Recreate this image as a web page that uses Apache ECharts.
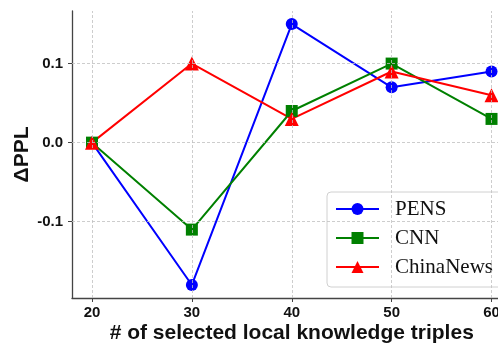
<!DOCTYPE html>
<html>
<head>
<meta charset="utf-8">
<script src="https://cdn.jsdelivr.net/npm/echarts@6/dist/echarts.min.js"></script>
<style>html,body{margin:0;padding:0;background:#fff;}#c{width:498px;height:345px;}</style>
</head>
<body>
<div id="c"></div>
<script>
const xValues = [20, 30, 40, 50, 60];
const pens = [0, -0.18, 0.15, 0.07, 0.09];
const cnn = [0, -0.11, 0.04, 0.10, 0.03];
const chinaNews = [0, 0.10, 0.03, 0.09, 0.06];
const xTicks = [20, 30, 40, 50, 60];
const yTicks = [-0.1, 0.0, 0.1];
const seriesNames = ['PENS', 'CNN', 'ChinaNews'];

const pair = arr => xValues.map((x, i) => [x, arr[i]]);
const chart = echarts.init(document.getElementById('c'), null, {renderer: 'canvas'});
const axisColor = '#444';
const tickFont = {fontFamily: 'Liberation Sans', fontWeight: 'bold', fontSize: 15, color: '#111'};
const gridStyle = {color: '#c0c0c0', width: 0.8, type: [3, 2]};

function mkSeries(name, data, color, symbol, size) {
  return {
    name, type: 'line', data: pair(data), symbol, symbolSize: size,
    lineStyle: {color, width: 2}, itemStyle: {color},
    z: 3, animation: false
  };
}

chart.setOption({
  animation: false,
  grid: {left: 72, top: 11, height: 287, width: 439.5, outerBoundsMode: 'none', containLabel: false},
  xAxis: {
    type: 'value', min: 18, max: 62,
    name: '# of selected local knowledge triples', nameLocation: 'middle', nameGap: 25,
    nameMoveOverlap: false,
    nameTextStyle: {fontFamily: 'Liberation Sans', fontWeight: 'bold', fontSize: 21, color: '#111'},
    axisLine: {show: true, onZero: false, lineStyle: {color: axisColor, width: 1.3}},
    axisTick: {show: true, customValues: xTicks, length: 4, inside: false, lineStyle: {color: axisColor}},
    axisLabel: Object.assign({customValues: xTicks, margin: 7, formatter: v => String(v)}, tickFont),
    splitLine: {show: false}
  },
  yAxis: {
    type: 'value', min: -0.1965, max: 0.1665,
    name: 'ΔPPL', nameLocation: 'middle', nameGap: 39,
    nameMoveOverlap: false,
    nameTextStyle: {fontFamily: 'Liberation Sans', fontWeight: 'bold', fontSize: 21, color: '#111'},
    axisLine: {show: true, onZero: false, lineStyle: {color: axisColor, width: 1.3}},
    axisTick: {show: true, customValues: yTicks, length: 4, inside: false, lineStyle: {color: axisColor}},
    axisLabel: Object.assign({customValues: yTicks, margin: 9, formatter: v => v.toFixed(1)}, tickFont),
    splitLine: {show: false}
  },
  legend: {
    data: seriesNames,
    orient: 'vertical', left: 327, top: 192,
    itemWidth: 43, itemHeight: 15, itemGap: 5,
    padding: [5, 24, 8, 8],
    backgroundColor: 'rgba(255,255,255,0.8)', borderColor: '#d0d0d0', borderWidth: 1, borderRadius: 4,
    textStyle: {fontFamily: 'Liberation Serif', fontSize: 21, color: '#111', lineHeight: 24, padding: [0, 0, 0, 11]}
  },
  series: [
    {
      name: 'grid', type: 'line', data: [[20, 0]], symbol: 'none', lineStyle: {opacity: 0},
      silent: true, z: 1,
      markLine: {
        silent: true, symbol: ['none', 'none'], label: {show: false}, animation: false,
        lineStyle: gridStyle,
        data: xTicks.map(v => ({xAxis: v})).concat(yTicks.map(v => ({yAxis: v})))
      }
    },
    mkSeries('PENS', pens, '#0000ff', 'circle', 12),
    mkSeries('CNN', cnn, '#008000', 'rect', 12),
    mkSeries('ChinaNews', chinaNews, '#ff0000', 'triangle', 14)
  ]
});
</script>
</body>
</html>
